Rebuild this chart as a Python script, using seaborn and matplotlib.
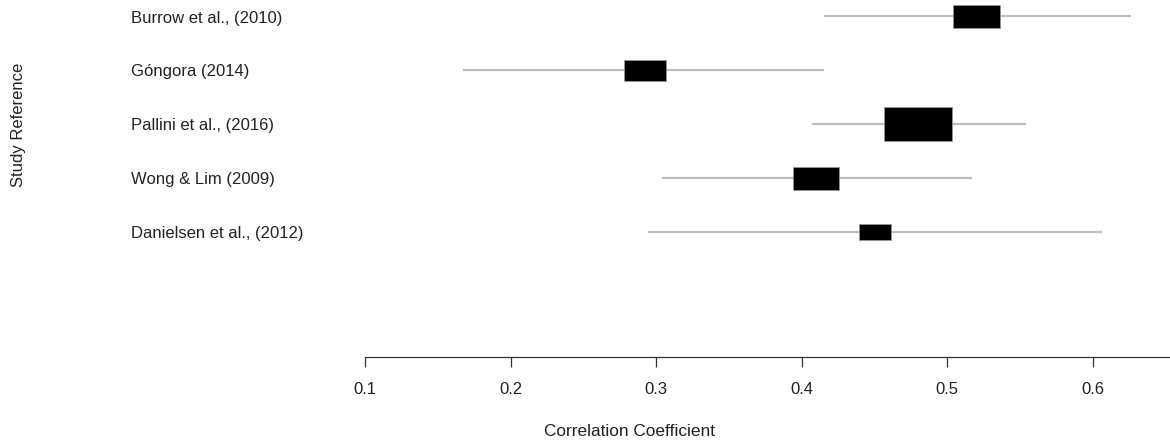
import matplotlib
matplotlib.use("Agg")
import matplotlib.pyplot as plt
import seaborn as sns
import numpy as np
import pandas as pd
from matplotlib.path import Path

# Study data
studies = ['Burrow et al., (2010)', 'Góngora (2014)', 'Pallini et al., (2016)',
           'Wong & Lim (2009)', 'Danielsen et al., (2012)']
estimates = [0.520, 0.2925, 0.480, 0.410, 0.450]
ci_lower = [0.415, 0.167, 0.407, 0.304, 0.2945]
ci_upper = [0.626, 0.415, 0.554, 0.517, 0.606]
rel_weight = [0.68, 0.62, 1.00, 0.68, 0.47]  # relative study weights (box size)
xticks = [0.1, 0.2, 0.3, 0.4, 0.5, 0.6]

sns.set_style('white')
plt.rcParams['font.family'] = ['Liberation Sans', 'DejaVu Sans']
plt.rcParams['font.size'] = 12

df = pd.DataFrame({'study': studies, 'r': estimates, 'lo': ci_lower,
                   'hi': ci_upper, 'w': rel_weight})
df['row'] = np.arange(len(df), 0, -1)

W, H, DPI = 1170, 446, 100
fig = plt.figure(figsize=(W / DPI, H / DPI), dpi=DPI)
x0_px, axis_px = 365.3, 357.3
ax = fig.add_axes([x0_px / W, (H - axis_px) / H, 1 - x0_px / W, axis_px / H])

# confidence intervals
ax.hlines(df['row'], df['lo'], df['hi'], color='#bebebe', lw=1.6, zorder=1)

# boxes (2:1 rectangles, size ~ weight)
rect = Path([(-1, -0.5), (1, -0.5), (1, 0.5), (-1, 0.5), (-1, -0.5)],
            [Path.MOVETO, Path.LINETO, Path.LINETO, Path.LINETO, Path.CLOSEPOLY])
box_h_max = 34  # px, for the largest weight
widths_pt = 2 * box_h_max * df['w'] * 72 / DPI
sns.scatterplot(data=df, x='r', y='row', marker=rect, s=widths_pt ** 2,
                color='black', edgecolor='#9a9a9a', linewidth=0.5, ax=ax,
                zorder=2, legend=False)

ax.set_xlim(0.1, 0.1 + (W - x0_px) / 1455)
ax.set_ylim(-1.325, 5.304)
ax.set_xticks(xticks)
ax.set_xticklabels([f'{t:.1f}' for t in xticks])
ax.set_yticks([])
ax.set_xlabel('')
ax.set_ylabel('')
for s in ['top', 'right', 'left']:
    ax.spines[s].set_visible(False)
ax.spines['bottom'].set_color('#333333')
ax.spines['bottom'].set_linewidth(0.9)
ax.tick_params(axis='x', direction='out', length=7.3, width=0.9,
               color='#333333', pad=10.5, labelcolor='#222222', bottom=True)

# study labels on the left
trans = matplotlib.transforms.blended_transform_factory(fig.transFigure, ax.transData)
for _, r in df.iterrows():
    ax.text(131 / W, r['row'] - 0.03, r['study'], transform=trans, ha='left',
            va='center', color='#222222', fontsize=12, clip_on=False)

fig.text(18.5 / W, 1 - 125 / H, 'Study Reference', rotation=90, ha='center',
         va='center', color='#222222', fontsize=12)
fig.text(630 / W, 1 - 432 / H, 'Correlation Coefficient', ha='center',
         va='center', color='#222222', fontsize=12.4)

fig.savefig('out.png', dpi=DPI)
